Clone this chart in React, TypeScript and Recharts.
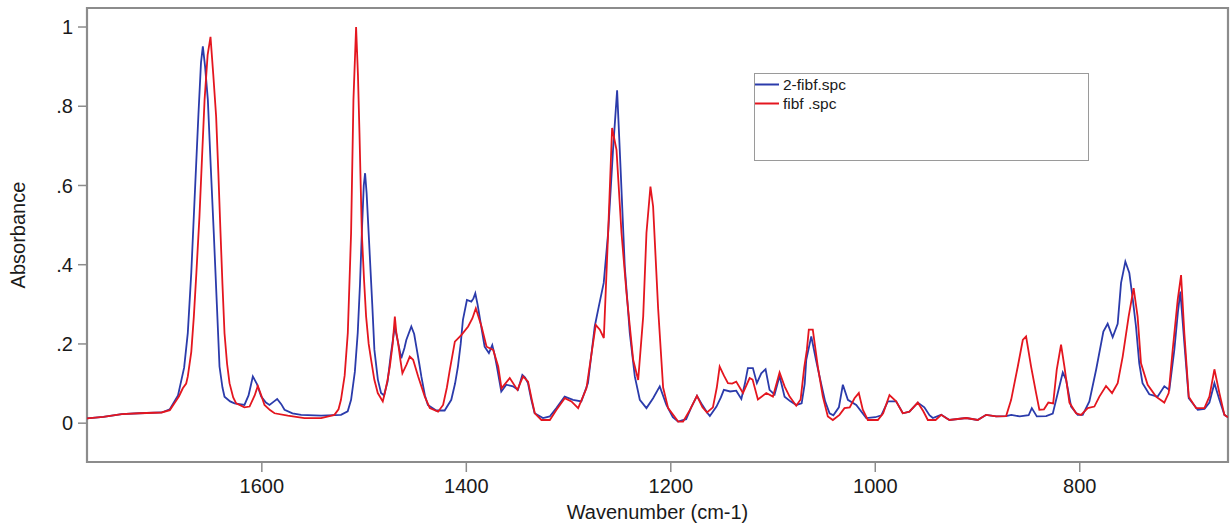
import React from 'react';
import { LineChart, Line, XAxis, YAxis, Legend, ReferenceArea, Label } from 'recharts';

const seriesNames = ['2-fibf.spc', 'fibf .spc'];
const seriesColors = ['#2b3bab', '#e4161f'];

const xTicks = [1600, 1400, 1200, 1000, 800];
const yTicks = [0, 0.2, 0.4, 0.6, 0.8, 1];
const xDomain = [655, 1771];
const yDomain = [-0.098, 1.048];

const blueWavenumbers = [
  1771, 1755, 1737, 1720, 1698, 1690, 1682, 1676, 1672.4, 1669, 1665.8, 1662, 1659.5, 1657.7, 1655.5, 1652.8, 1650, 1647, 1644, 1641.4,
  1638.5, 1636.5, 1631, 1626.7, 1617, 1613, 1608.8, 1605, 1600.6, 1596, 1592.5, 1588, 1585, 1581, 1577.8, 1570, 1561.6, 1542, 1522.6, 1516,
  1512.7, 1509, 1506.2, 1504, 1502.2, 1500.3, 1499, 1497.5, 1494.7, 1492, 1489.9, 1486.5, 1483.4, 1480.5, 1477, 1474, 1470, 1466.5, 1463.6, 1460.5,
  1458.7, 1453.8, 1451, 1448.9, 1446, 1444, 1440.5, 1437.6, 1429.4, 1421.2, 1414.7, 1411, 1408.2, 1405.5, 1403.3, 1399.4, 1395.1, 1393, 1391.2, 1389,
  1387, 1384.5, 1382.1, 1377.9, 1374.6, 1372.5, 1370.1, 1365.8, 1360.9, 1354.4, 1349.5, 1345.2, 1342.5, 1339.7, 1336.5, 1333.2, 1325, 1318.4, 1311.9, 1303.8,
  1295.6, 1287.5, 1281, 1274.4, 1270, 1265.6, 1261.3, 1256.5, 1252.5, 1249.2, 1245, 1240.1, 1235.2, 1230.3, 1223.8, 1217.3, 1210.8, 1204.3, 1198, 1192.9,
  1185, 1180, 1174.4, 1169, 1164, 1161.8, 1155.3, 1151, 1148.1, 1142, 1136, 1131, 1127.5, 1124.6, 1119.7, 1115.8, 1111.5, 1107.3, 1103.4, 1098.5,
  1093.6, 1088.7, 1083, 1077.3, 1072, 1069, 1067.5, 1062.6, 1058, 1053, 1049, 1044.7, 1041, 1035.6, 1031.7, 1026.8, 1018.6, 1008.8, 1000, 994,
  987.7, 979.6, 973, 966.6, 958.4, 952, 947, 943.7, 935.5, 927.4, 911, 900, 891.6, 881.8, 872, 867, 858.7, 850, 846.9, 842,
  832.9, 826.4, 821.5, 816.6, 813.4, 808.5, 802, 797.1, 790.6, 784, 776.9, 772.7, 767.8, 762.9, 759.6, 755.4, 751.5, 748.3, 745, 741.8,
  738.6, 732, 723.9, 717.3, 712.4, 707.5, 704, 701.6, 697.7, 693.4, 684.6, 678, 673.2, 668.3, 663.4, 658.5, 655,
];
const blueAbsorbance = [
  0.012, 0.016, 0.023, 0.025, 0.027, 0.035, 0.07, 0.14, 0.228, 0.38, 0.564, 0.78, 0.91, 0.951, 0.9, 0.816, 0.65, 0.48, 0.3, 0.143,
  0.09, 0.067, 0.055, 0.05, 0.046, 0.07, 0.118, 0.1, 0.067, 0.052, 0.046, 0.055, 0.061, 0.048, 0.034, 0.025, 0.021, 0.019, 0.021, 0.03,
  0.059, 0.13, 0.228, 0.35, 0.48, 0.6, 0.631, 0.58, 0.438, 0.3, 0.185, 0.11, 0.076, 0.07, 0.105, 0.17, 0.244, 0.2, 0.164, 0.19,
  0.21, 0.244, 0.225, 0.193, 0.15, 0.118, 0.07, 0.046, 0.032, 0.032, 0.059, 0.1, 0.143, 0.2, 0.261, 0.311, 0.307, 0.315, 0.328, 0.3,
  0.269, 0.23, 0.193, 0.177, 0.197, 0.175, 0.143, 0.08, 0.097, 0.093, 0.084, 0.122, 0.115, 0.101, 0.06, 0.025, 0.013, 0.017, 0.038, 0.067,
  0.059, 0.055, 0.101, 0.244, 0.3, 0.354, 0.48, 0.69, 0.84, 0.648, 0.395, 0.227, 0.118, 0.059, 0.038, 0.063, 0.093, 0.046, 0.015, 0.004,
  0.01, 0.04, 0.069, 0.045, 0.025, 0.018, 0.042, 0.065, 0.084, 0.08, 0.082, 0.061, 0.1, 0.139, 0.139, 0.101, 0.126, 0.136, 0.084, 0.072,
  0.119, 0.067, 0.055, 0.046, 0.05, 0.1, 0.16, 0.219, 0.16, 0.1, 0.055, 0.025, 0.02, 0.04, 0.097, 0.059, 0.046, 0.013, 0.015, 0.02,
  0.055, 0.055, 0.025, 0.029, 0.052, 0.04, 0.02, 0.013, 0.021, 0.008, 0.013, 0.008, 0.021, 0.017, 0.018, 0.021, 0.017, 0.02, 0.038, 0.017,
  0.018, 0.024, 0.076, 0.128, 0.11, 0.042, 0.021, 0.021, 0.055, 0.135, 0.231, 0.251, 0.217, 0.251, 0.354, 0.408, 0.379, 0.316, 0.244, 0.151,
  0.101, 0.073, 0.067, 0.093, 0.084, 0.185, 0.28, 0.332, 0.202, 0.063, 0.034, 0.036, 0.052, 0.101, 0.059, 0.021, 0.015,
];

const redWavenumbers = [
  1771, 1755, 1737, 1720, 1698, 1690, 1685.5, 1681, 1677.3, 1674, 1672.4, 1669, 1666.5, 1664, 1661, 1658.5, 1656, 1653, 1650.2, 1647.5,
  1644.7, 1642.5, 1640.4, 1638.5, 1636.5, 1634, 1631.6, 1628, 1625.1, 1617, 1612, 1607, 1603.9, 1600.5, 1597.4, 1592, 1587.6, 1574.6, 1558.3, 1542,
  1529, 1525, 1522.6, 1519, 1515.9, 1512.7, 1510.4, 1507.8, 1506, 1504.5, 1502.2, 1500, 1498, 1495.5, 1493.1, 1490, 1486.6, 1481.7, 1479.7, 1477,
  1474.8, 1472, 1469.9, 1468.5, 1466.7, 1464.5, 1462.5, 1458.5, 1455.3, 1452, 1447.1, 1440.6, 1435.7, 1427.6, 1422.7, 1419, 1416.1, 1411.2, 1404.7, 1398.2,
  1394, 1390.7, 1385.1, 1380.2, 1373.7, 1368.8, 1365.6, 1357.5, 1350, 1344.5, 1339.6, 1336, 1333, 1326.5, 1318.3, 1311.8, 1303.7, 1297.2, 1290.6, 1282.5,
  1273.4, 1269.4, 1265.5, 1261.3, 1257.4, 1253.1, 1248.2, 1243.3, 1236.8, 1231.9, 1227, 1223.8, 1219.9, 1217.3, 1212.4, 1207.5, 1202.6, 1192.8, 1188, 1182,
  1174.4, 1169, 1164.6, 1158.8, 1155, 1152.2, 1148, 1144.1, 1140, 1136, 1129.4, 1122.9, 1120, 1114.8, 1106.6, 1100.1, 1093.6, 1088.7, 1083.8, 1077.3,
  1073, 1069.5, 1066.9, 1065, 1061.1, 1056.2, 1051.3, 1046.4, 1041.5, 1035, 1030.1, 1025, 1020.3, 1016.1, 1012.2, 1007.3, 997.5, 992.3, 986.1, 979.6,
  973.1, 966.6, 958.4, 953, 948.6, 941, 935.5, 930, 927.4, 911, 899.7, 891.6, 881.8, 872, 867.1, 860.6, 855.7, 852.5, 847.6, 842.7,
  839.5, 835, 830.7, 826, 822.5, 818.3, 815, 810.1, 803.6, 798.7, 792.2, 785.7, 780.8, 774.3, 768.4, 762.9, 758, 752.2, 747.3, 743.4,
  740.1, 733.6, 725.4, 717.3, 713, 709.1, 704.2, 700.9, 697.7, 693.4, 686.2, 678.1, 673.2, 668.3, 663.4, 658.5, 655,
];
const redAbsorbance = [
  0.012, 0.016, 0.023, 0.025, 0.027, 0.033, 0.05, 0.068, 0.088, 0.1, 0.118, 0.18, 0.269, 0.38, 0.522, 0.67, 0.816, 0.93, 0.975, 0.88,
  0.774, 0.63, 0.48, 0.35, 0.227, 0.15, 0.101, 0.065, 0.05, 0.04, 0.042, 0.07, 0.094, 0.07, 0.046, 0.033, 0.025, 0.019, 0.013, 0.013,
  0.021, 0.035, 0.059, 0.12, 0.228, 0.48, 0.816, 1.0, 0.88, 0.733, 0.48, 0.36, 0.269, 0.2, 0.16, 0.11, 0.076, 0.055, 0.076, 0.11,
  0.143, 0.2, 0.269, 0.23, 0.202, 0.16, 0.126, 0.148, 0.168, 0.16, 0.118, 0.067, 0.038, 0.029, 0.046, 0.09, 0.135, 0.206, 0.223, 0.244,
  0.265, 0.29, 0.244, 0.193, 0.185, 0.143, 0.088, 0.114, 0.084, 0.118, 0.105, 0.06, 0.025, 0.008, 0.008, 0.034, 0.063, 0.055, 0.038, 0.088,
  0.248, 0.236, 0.215, 0.48, 0.745, 0.69, 0.48, 0.328, 0.16, 0.109, 0.269, 0.48, 0.597, 0.547, 0.29, 0.09, 0.038, 0.004, 0.004, 0.03,
  0.069, 0.04, 0.027, 0.04, 0.09, 0.143, 0.12, 0.101, 0.1, 0.105, 0.076, 0.114, 0.11, 0.06, 0.076, 0.067, 0.128, 0.093, 0.067, 0.044,
  0.06, 0.14, 0.185, 0.236, 0.236, 0.143, 0.067, 0.017, 0.008, 0.021, 0.038, 0.04, 0.063, 0.076, 0.034, 0.008, 0.008, 0.025, 0.071, 0.055,
  0.025, 0.029, 0.052, 0.03, 0.008, 0.008, 0.021, 0.012, 0.008, 0.013, 0.008, 0.021, 0.017, 0.018, 0.059, 0.143, 0.21, 0.219, 0.143, 0.076,
  0.034, 0.035, 0.052, 0.05, 0.135, 0.198, 0.143, 0.052, 0.025, 0.021, 0.038, 0.042, 0.067, 0.094, 0.076, 0.101, 0.168, 0.269, 0.341, 0.269,
  0.151, 0.097, 0.067, 0.052, 0.076, 0.185, 0.311, 0.374, 0.227, 0.067, 0.038, 0.038, 0.067, 0.136, 0.076, 0.021, 0.015,
];

const toPoints = (wn: number[], ab: number[]) => wn.map((w, i) => ({ wn: w, a: ab[i] }));
const blueData = toPoints(blueWavenumbers, blueAbsorbance);
const redData = toPoints(redWavenumbers, redAbsorbance);

const FONT = '"Liberation Sans", Arial, sans-serif';
const TEXT = '#1a1a1a';
const FRAME = '#8c8c8c';

const fmtY = (v: number) => {
  if (v === 0) return '0';
  if (v === 1) return '1';
  return v.toFixed(1).replace(/^0/, '');
};

const LegendBox = (props: any) => {
  const payload = props.payload || [];
  return (
    <div
      style={{
        boxSizing: 'border-box',
        width: 335,
        height: 88,
        border: '1.5px solid #9a9a9a',
        background: '#fff',
        position: 'relative',
        fontFamily: FONT,
        fontSize: 15.5,
        color: TEXT,
      }}
    >
      {payload.map((p: any, i: number) => (
        <div
          key={i}
          style={{ position: 'absolute', left: 0, top: 0.5 + i * 19, height: 19, lineHeight: '19px', display: 'flex', alignItems: 'center', whiteSpace: 'pre' }}
        >
          <svg width={24} height={19} style={{ display: 'block' }}>
            <line x1={0} x2={24} y1={9.5} y2={9.5} stroke={p.color} strokeWidth={2} />
          </svg>
          <span style={{ marginLeft: 4 }}>{p.value}</span>
        </div>
      ))}
    </div>
  );
};

const YLabel = (props: any) => {
  const vb = props.viewBox || { x: 0, y: 8, width: 87, height: 454 };
  const cx = vb.x + 25;
  const cy = vb.y + vb.height / 2;
  return (
    <text x={cx} y={cy} transform={`rotate(-90 ${cx} ${cy})`} textAnchor="middle" fontFamily={FONT} fontSize={20} fill={TEXT}>
      Absorbance
    </text>
  );
};

export default function App() {
  return (
    <div style={{ position: 'absolute', left: 0, top: 0, background: '#fff' }}>
      <LineChart width={1231} height={526} margin={{ top: 8, right: 3, bottom: 0, left: 0 }}>
        <XAxis
          dataKey="wn"
          type="number"
          domain={xDomain}
          reversed
          ticks={xTicks}
          allowDataOverflow
          height={64}
          axisLine={false}
          tickSize={10}
          tickMargin={7}
          tickLine={{ stroke: FRAME, strokeWidth: 1.5 }}
          tick={{ fontSize: 20, fill: TEXT, fontFamily: FONT }}
        >
          <Label value="Wavenumber (cm-1)" position="insideBottom" offset={7} style={{ fontSize: 20, fill: TEXT, fontFamily: FONT }} />
        </XAxis>
        <YAxis
          type="number"
          domain={yDomain}
          ticks={yTicks}
          allowDataOverflow
          width={87}
          axisLine={false}
          tickSize={9}
          tickMargin={5}
          tickFormatter={fmtY}
          tickLine={{ stroke: FRAME, strokeWidth: 1.5 }}
          tick={{ fontSize: 20, fill: TEXT, fontFamily: FONT }}
          label={<YLabel />}
        />
        <ReferenceArea
          x1={xDomain[1]}
          x2={xDomain[0]}
          y1={yDomain[0]}
          y2={yDomain[1]}
          fill="none"
          fillOpacity={0}
          stroke={FRAME}
          strokeWidth={2.2}
          ifOverflow="visible"
        />
        <Line
          data={blueData}
          dataKey="a"
          name={seriesNames[0]}
          stroke={seriesColors[0]}
          strokeWidth={1.8}
          dot={false}
          activeDot={false}
          type="linear"
          isAnimationActive={false}
        />
        <Line
          data={redData}
          dataKey="a"
          name={seriesNames[1]}
          stroke={seriesColors[1]}
          strokeWidth={1.8}
          dot={false}
          activeDot={false}
          type="linear"
          isAnimationActive={false}
        />
        <Legend
          layout="vertical"
          align="center"
          verticalAlign="middle"
          content={<LegendBox />}
          wrapperStyle={{ left: 754, top: 73, width: 335, height: 88, right: 'auto', bottom: 'auto' }}
        />
      </LineChart>
    </div>
  );
}
